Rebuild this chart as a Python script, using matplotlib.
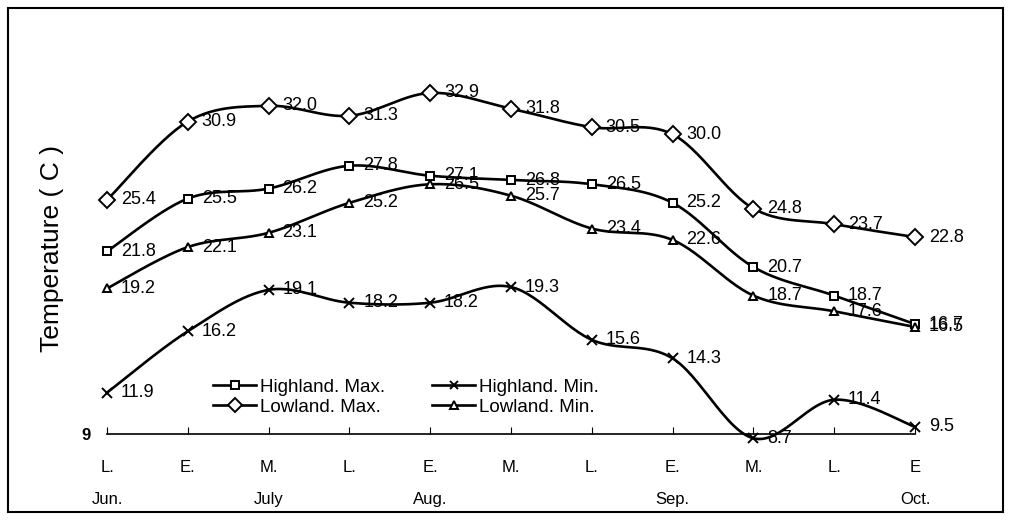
import numpy as np
import matplotlib
matplotlib.use("Agg")
import matplotlib.pyplot as plt
from matplotlib.patches import Rectangle

plt.rcParams['font.family'] = ['Liberation Sans', 'DejaVu Sans']

# ten-day periods, L./E./M. = late/early/middle
periods = ["L.\nJun.", "E.", "M.\nJuly", "L.", "E.\nAug.", "M.",
           "L.", "E.\nSep.", "M.", "L.", "E\nOct."]

highland_max = [21.8, 25.5, 26.2, 27.8, 27.1, 26.8, 26.5, 25.2, 20.7, 18.7, 16.7]
lowland_max = [25.4, 30.9, 32.0, 31.3, 32.9, 31.8, 30.5, 30.0, 24.8, 23.7, 22.8]
highland_min = [11.9, 16.2, 19.1, 18.2, 18.2, 19.3, 15.6, 14.3, 8.7, 11.4, 9.5]
lowland_min = [19.2, 22.1, 23.1, 25.2, 26.5, 25.7, 23.4, 22.6, 18.7, 17.6, 16.5]


def smooth(x, y, n=30):
    # Excel-like smoothed line: bezier through points (catmull-rom, 1/6 tension)
    x = np.asarray(x, float)
    y = np.asarray(y, float)
    px = np.concatenate([[x[0]], x, [x[-1]]])
    py = np.concatenate([[y[0]], y, [y[-1]]])
    t = np.linspace(0, 1, n)[:, None]
    xs, ys = [], []
    for i in range(1, len(px) - 2):
        p0 = np.array([px[i], py[i]])
        p3 = np.array([px[i + 1], py[i + 1]])
        c1 = p0 + (np.array([px[i + 1], py[i + 1]]) - np.array([px[i - 1], py[i - 1]])) / 6
        c2 = p3 - (np.array([px[i + 2], py[i + 2]]) - np.array([px[i], py[i]])) / 6
        b = ((1 - t) ** 3) * p0 + 3 * ((1 - t) ** 2) * t * c1 + 3 * (1 - t) * t ** 2 * c2 + t ** 3 * p3
        xs.append(b[:, 0])
        ys.append(b[:, 1])
    return np.concatenate(xs), np.concatenate(ys)


fig = plt.figure(figsize=(10.1, 5.2), dpi=100)
ax = fig.add_axes([107 / 1010, 86 / 520, (915 - 107) / 1010, (434 - 63) / 520])

x = np.arange(len(periods))
series = [
    (highland_max, "s", 6, "Highland. Max."),
    (lowland_max, "D", 8, "Lowland. Max."),
    (highland_min, "x", 7, "Highland. Min."),
    (lowland_min, "^", 6, "Lowland. Min."),
]

handles = {}
for vals, mk, ms, name in series:
    sx, sy = smooth(x, vals)
    ax.plot(sx, sy, color="black", lw=1.9, clip_on=False, zorder=2)
    ax.plot(x, vals, ls="none", marker=mk, ms=ms, mfc="white", mec="black",
            mew=1.4, clip_on=False, zorder=3)
    h, = ax.plot([], [], color="black", lw=1.9, marker=mk, ms=ms * 0.85,
                 mfc="white", mec="black", mew=1.4)
    handles[name] = h
    for xi, v in zip(x, vals):
        ax.annotate(f"{v:.1f}", (xi, v), xytext=(10, 0), textcoords="offset points",
                    va="center", ha="left", fontsize=13, annotation_clip=False)

ax.set_xlim(0, len(periods) - 1)
ax.set_ylim(9, 35)
ax.set_xticks(x)
ax.set_xticklabels(periods, fontsize=12, linespacing=2.4)
ax.set_yticks([9])
ax.set_yticklabels(["9"], fontsize=12, fontweight="bold")
ax.tick_params(axis="x", direction="in", length=5, pad=19)
ax.tick_params(axis="y", length=0, pad=12)
for s in ["top", "right", "left"]:
    ax.spines[s].set_visible(False)
ax.spines["bottom"].set_linewidth(1.2)
ax.set_ylabel("Temperature ( C )", fontsize=19)
ax.yaxis.set_label_coords(-0.053, 0.5)

order = ["Highland. Max.", "Lowland. Max.", "Highland. Min.", "Lowland. Min."]
ax.legend([handles[k] for k in order], order, ncol=2, frameon=False,
          fontsize=13.5, loc="upper left", bbox_to_anchor=(0.12, 0.175),
          handlelength=2.3, handletextpad=0.2, columnspacing=2.5,
          labelspacing=0.15, borderpad=0)

fig.patches.append(Rectangle((8 / 1010, 8 / 520), 995 / 1010, 504 / 520,
                             transform=fig.transFigure, fill=False,
                             edgecolor="black", lw=1.5))

fig.savefig("out.png", dpi=100, facecolor="white")
